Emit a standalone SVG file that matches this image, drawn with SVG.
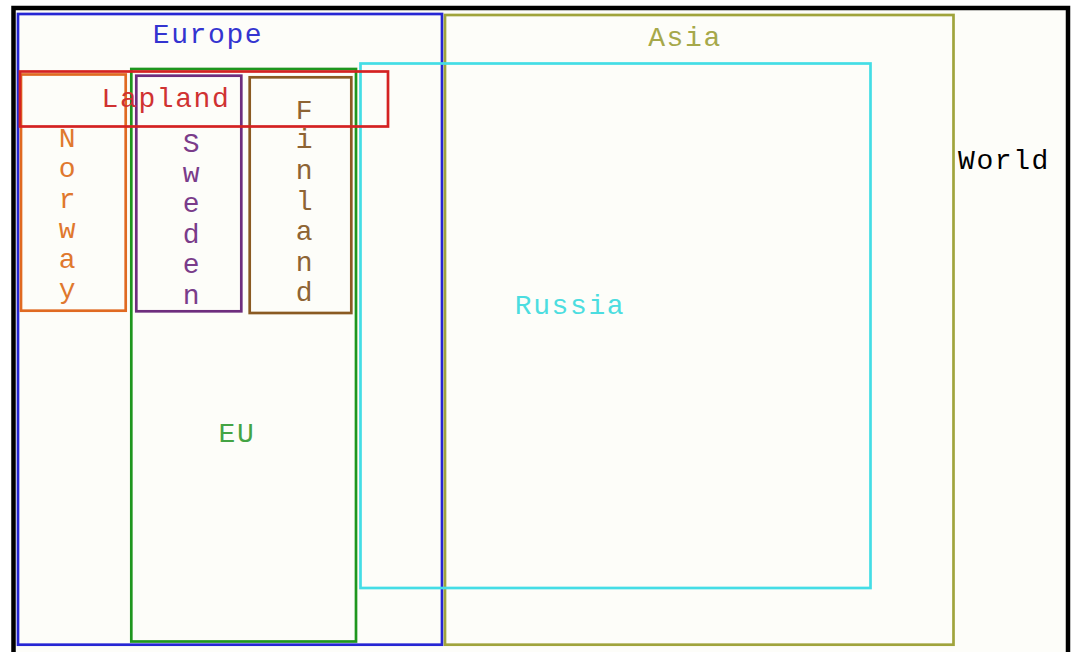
<svg xmlns="http://www.w3.org/2000/svg" width="1072" height="652" viewBox="0 0 1072 652">
<style>
rect.box{fill:none;stroke-width:2.7}
text{font-family:"Liberation Mono","Courier New",monospace;font-size:28px;letter-spacing:1.6px;text-anchor:middle}
</style>
<rect x="0" y="0" width="1072" height="652" fill="#ffffff"/>
<g id="world">
<rect x="13.5" y="8" width="1054.5" height="660" fill="#fdfdf9" stroke="#000" stroke-width="4.5"/>
<text x="1004" y="169" fill="#000">World</text>
</g>
<g id="europe">
<rect class="box" x="18" y="14" width="424" height="630.7" stroke="#2626d4"/>
<text x="208" y="43" fill="#3434d0">Europe</text>
</g>
<g id="asia">
<rect class="box" x="445" y="15" width="508.5" height="629.7" stroke="#a0a43c"/>
<text x="685" y="46" fill="#a6a84a">Asia</text>
</g>
<g id="russia">
<rect class="box" x="360.5" y="63.5" width="510" height="524.5" stroke="#44dde6"/>
<text x="570" y="314" fill="#4cdde0">Russia</text>
</g>
<g id="eu">
<rect class="box" x="131.3" y="69" width="224.7" height="572.5" stroke="#1e961e"/>
<text x="237" y="442" fill="#44a444">EU</text>
</g>
<g id="norway">
<rect class="box" x="21" y="74.5" width="104.7" height="236.2" stroke="#e06a22"/>
<text x="68" y="147" fill="#e0782e"><tspan x="68">N</tspan><tspan x="68" y="177">o</tspan><tspan x="68" y="208">r</tspan><tspan x="68" y="238">w</tspan><tspan x="68" y="268">a</tspan><tspan x="68" y="298">y</tspan></text>
</g>
<g id="sweden">
<rect class="box" x="136.3" y="75.7" width="105" height="235.6" stroke="#6e2e7e"/>
<text x="192" y="152" fill="#7a3c8a"><tspan x="192">S</tspan><tspan x="192" y="182">w</tspan><tspan x="192" y="212">e</tspan><tspan x="192" y="243">d</tspan><tspan x="192" y="273">e</tspan><tspan x="192" y="304">n</tspan></text>
</g>
<g id="finland">
<rect class="box" x="249.7" y="77.3" width="101.6" height="235.7" stroke="#8a5a22"/>
<text x="305" y="119" fill="#8e6434"><tspan x="305">F</tspan><tspan x="305" y="148">i</tspan><tspan x="305" y="179">n</tspan><tspan x="305" y="210">l</tspan><tspan x="305" y="240">a</tspan><tspan x="305" y="271">n</tspan><tspan x="305" y="301">d</tspan></text>
</g>
<g id="lapland">
<rect class="box" x="20" y="71.5" width="368" height="55" stroke="#d42222"/>
<text x="166" y="107" fill="#d03232">Lapland</text>
</g>
<g id="connectors"></g>
</svg>
